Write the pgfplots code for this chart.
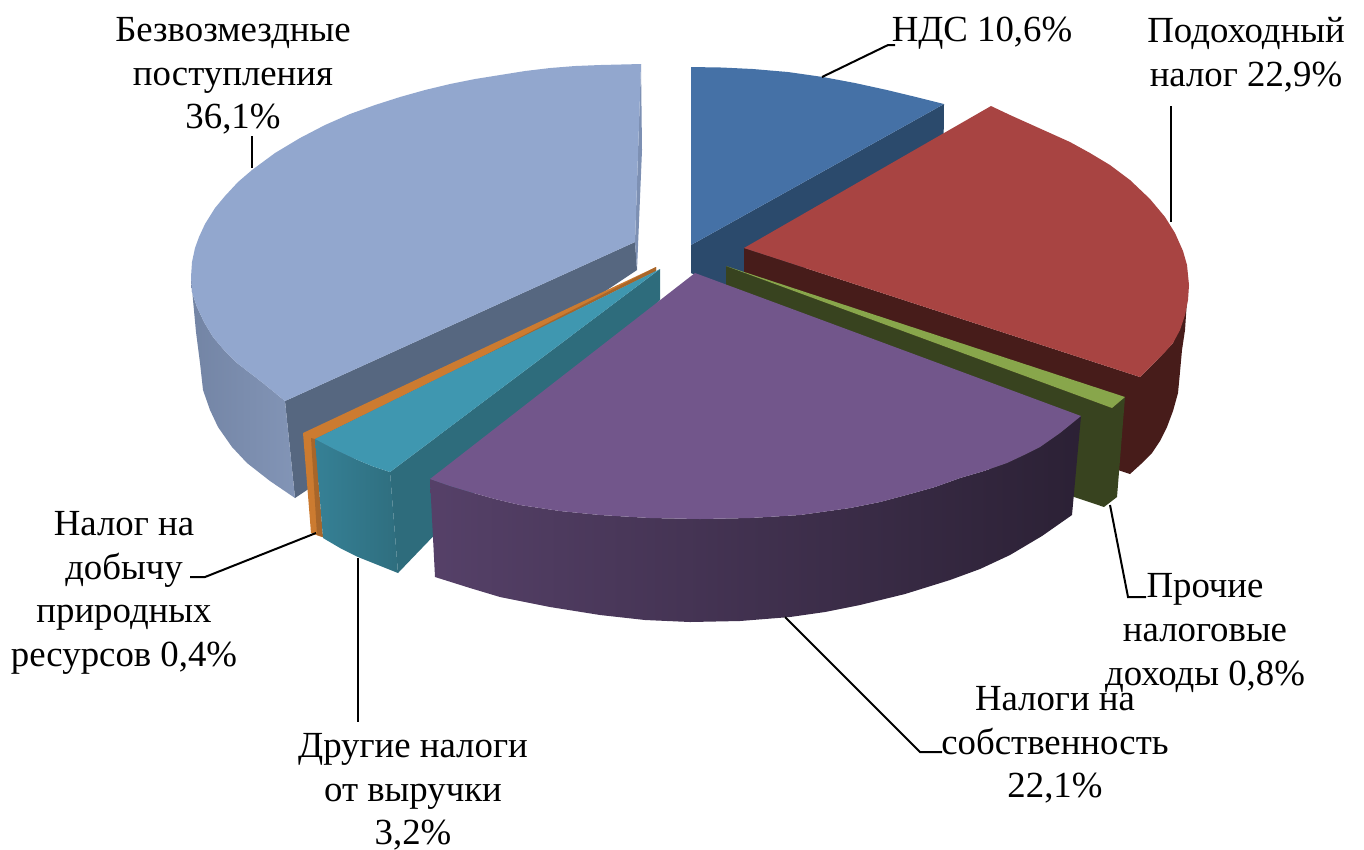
\documentclass[border=0pt]{standalone}
\usepackage{pgfplots}
\pgfplotsset{compat=1.18}
\usepackage{fontspec}
\setmainfont{Liberation Serif}
\definecolor{bluetop}{HTML}{4571A6}
\definecolor{bluein}{HTML}{2B4A6C}
\definecolor{redtop}{HTML}{A84442}
\definecolor{reddark}{HTML}{471C1A}
\definecolor{greentop}{HTML}{88A64B}
\definecolor{greendark}{HTML}{38431F}
\definecolor{purpletop}{HTML}{72568B}
\definecolor{tealtop}{HTML}{3F97B0}
\definecolor{tealin}{HTML}{2E6C7C}
\definecolor{orangetop}{HTML}{CC7B30}
\definecolor{orangedark}{HTML}{A8662A}
\definecolor{lbtop}{HTML}{92A7CE}
\definecolor{lbin}{HTML}{566780}
\definecolor{lbside}{HTML}{7D90B3}
\pgfplotsset{face/.style={draw=none,no markers,forget plot,fill=#1},
  lead/.style={draw=black,line width=1bp,no markers,forget plot}}
\begin{document}
\begin{tikzpicture}
\begin{axis}[scale only axis,width=682bp,height=425bp,hide axis,
  xmin=0,xmax=1364,ymin=0,ymax=850,y dir=reverse,clip=false,enlargelimits=false]
% blue slice
\addplot[face=bluein] coordinates {(691,245)(944,104)(943,200)(760,290)(726,290)(691,273)} --cycle;
\addplot[face=bluetop] coordinates {(691,245)(691,67)(722,67.5)(753,69)(788,72)(823,77)(855,83)(887,90)(916,97)(944,104)} --cycle;
% light-blue slice
\addplot[face=lbin] coordinates {(635,242)(285,401)(295,498)(637,270)} --cycle;
\addplot[draw=none,no markers,forget plot,left color=lbside!92!black,right color=lbside!96!white] coordinates {(191,277)(192,292)(197,307)(204,322)(213,337)(224,350)(237,363)(250,373)(263,383)(285,401)(295,498)(270,481)(247,463)(232,447)(218,427)(210,410)(203,390)(200,363)(196,332)(193,300)} --cycle;
\addplot[face=lbside] coordinates {(641,64)(642,150)(637,270)(635,242)} --cycle;
\addplot[face=lbtop] coordinates {(641,64)(600,65)(575,66)(550,68)(525,71)(500,75)(475,79)(450,84)(425,90)(400,97)(375,105)(350,114)(325,125)(300,138)(275,153)(252,170)(238,182)(225,196)(215,208)(205,224)(199,237)(195,248)(192,262)(191,277)(192,292)(197,307)(204,322)(213,337)(224,350)(237,363)(250,373)(263,383)(285,401)(635,242)} --cycle;
% red slice
\addplot[face=reddark] coordinates {(744,248)(1140,377)(1157,360)(1173,343)(1187,300)(1185,330)(1182,350)(1180,372)(1178,393)(1173,411)(1167,427)(1160,441)(1152,453)(1141,464)(1130,474)(1118,470)(744,290)} --cycle;
\addplot[face=redtop] coordinates {(744,248)(991,106)(1010,115)(1030,124)(1050,133)(1070,142)(1090,153)(1110,165)(1130,180)(1150,199)(1165,217)(1175,233)(1183,251)(1187,265)(1189,285)(1188,300)(1185,315)(1180,330)(1173,343)(1165,352)(1157,360)(1148,369)(1140,377)} --cycle;
% green slice
\addplot[face=greendark] coordinates {(726,266)(1112,408)(1125,397)(1117,497)(1104,507)(726,380)} --cycle;
\addplot[face=greentop] coordinates {(726,266)(1125,397)(1112,408)} --cycle;
% orange slice
\addplot[face=orangetop] coordinates {(656,267)(303,433)(311,533)(322,537)(315,439)(656,271)} --cycle;
\addplot[face=orangedark] coordinates {(311,438)(315,439)(323,537)(317,535)} --cycle;
\addplot[face=orangedark] coordinates {(656,267)(470,363)(656,271)} --cycle;
% teal slice
\addplot[face=tealin] coordinates {(660,269)(390,472)(398,573)(660,300)} --cycle;
\addplot[draw=none,no markers,forget plot,left color=tealtop!85!black,right color=tealin!95!tealtop] coordinates {(315,439)(334,449)(353,458)(372,466)(390,472)(398,573)(378,565)(358,557)(340,548)(323,538)} --cycle;
\addplot[face=tealtop] coordinates {(660,269)(315,439)(334,449)(353,458)(372,466)(390,472)} --cycle;
% purple slice
\addplot[draw=none,no markers,forget plot,left color=purpletop!75!black,middle color=purpletop!58!black,right color=purpletop!38!black] coordinates {(430,479)(450,486)(470,492)(495,499)(520,505)(560,511)(600,515)(650,518)(700,519)(750,518)(800,515)(850,508)(880,502)(910,494)(935,487)(960,478)(984,471)(1007,463)(1024,455)(1040,447)(1060,433)(1081,416)(1072,515)(1042,536)(1010,555)(980,569)(950,580)(905,594)(860,605)(825,612)(790,617)(740,621)(690,622)(645,620)(600,615)(550,607)(500,597)(470,588)(435,577)} --cycle;
\addplot[face=purpletop] coordinates {(695,273)(1081,416)(1060,433)(1040,447)(1024,455)(1007,463)(984,471)(960,478)(935,487)(910,494)(880,502)(850,508)(800,515)(750,518)(700,519)(650,518)(600,515)(560,511)(520,505)(495,499)(470,492)(450,486)(430,479)} --cycle;
% leader lines
\addplot[lead] coordinates {(822,77)(888,45)(895,45)};
\addplot[lead] coordinates {(1171,222)(1171,106)};
\addplot[lead] coordinates {(252,168)(252,136)};
\addplot[lead] coordinates {(1110,505)(1128,597)(1146,597)};
\addplot[lead] coordinates {(785,617)(920,752)(942,752)};
\addplot[lead] coordinates {(358,558)(358,722)};
\addplot[lead] coordinates {(316,533)(205,577)(190,577)};
% labels
\tikzset{lab/.style={inner sep=0pt,align=center,font=\fontsize{18.4bp}{21.8bp}\selectfont}}
\node[lab] at (axis cs:982,33) {НДС 10,6\%};
\node[lab] at (axis cs:1246,55) {Подоходный\\налог 22,9\%};
\node[lab] at (axis cs:233,76) {Безвозмездные\\поступления\\36,1\%};
\node[lab] at (axis cs:1205,633) {Прочие\\налоговые\\доходы 0,8\%};
\node[lab] at (axis cs:1055,745) {Налоги на\\собственность\\22,1\%};
\node[lab] at (axis cs:413,792) {Другие налоги\\от выручки\\3,2\%};
\node[lab] at (axis cs:124,593) {Налог на\\добычу\\природных\\ресурсов 0,4\%};
\end{axis}
\pgfresetboundingbox
\path[use as bounding box] (0,0) rectangle (682bp,425bp);
\end{tikzpicture}
\end{document}
